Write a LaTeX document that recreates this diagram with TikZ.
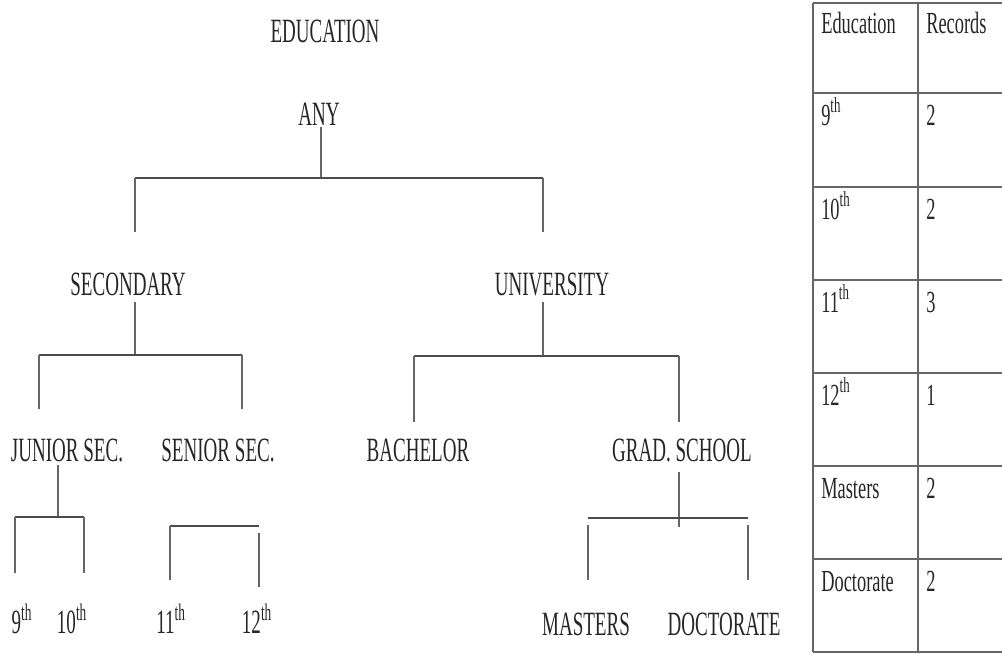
\documentclass[tikz,border=0pt]{standalone}
\usepackage{fontspec}
\setmainfont{Liberation Serif}[FakeStretch=0.56]
\newfontfamily\tabfont{Liberation Serif}[FakeStretch=0.6]
\begin{document}
\begin{tikzpicture}[x=0.75pt,y=-0.75pt,
  lbl/.style={anchor=base,inner sep=0pt,text=black!85,font=\fontsize{25.5}{28}\selectfont},
  cell/.style={anchor=base west,inner sep=0pt,text=black!85,font=\tabfont\fontsize{23}{26}\selectfont},
  vline/.style={draw=black!60,line width=1.1pt},
  hline/.style={draw=black!70,line width=1.8pt},
  grid/.style={draw=black!60,line width=1.8pt}]
\useasboundingbox (0,0) rectangle (1002,653);
% tree labels
\node[lbl] (edu) at (325,42) {EDUCATION};
\node[lbl] (any) at (319,125) {ANY};
\node[lbl] (sec) at (128,295) {SECONDARY};
\node[lbl] (uni) at (552,295) {UNIVERSITY};
\node[lbl] (jun) at (67,461) {JUNIOR SEC.};
\node[lbl] (sen) at (218,461) {SENIOR SEC.};
\node[lbl] (bac) at (418,461) {BACHELOR};
\node[lbl] (grd) at (682,461) {GRAD. SCHOOL};
\node[lbl] (g9) at (22,633) {9\textsuperscript{th}};
\node[lbl] (g10) at (72,633) {10\textsuperscript{th}};
\node[lbl] (g11) at (171,633) {11\textsuperscript{th}};
\node[lbl] (g12) at (257,633) {12\textsuperscript{th}};
\node[lbl] (mas) at (586,635) {MASTERS};
\node[lbl] (doc) at (724,635) {DOCTORATE};
% junction coordinates
\coordinate (a0) at (321,127);
\coordinate (a1) at (321,178);
\coordinate (aL) at (135,178);
\coordinate (aR) at (543,178);
\coordinate (aLb) at (135,232);
\coordinate (aRb) at (543,232);
\coordinate (s0) at (135,302);
\coordinate (s1) at (135,355);
\coordinate (sL) at (39,355);
\coordinate (sR) at (242,355);
\coordinate (sLb) at (39,409);
\coordinate (sRb) at (242,409);
\coordinate (u0) at (543,302);
\coordinate (u1) at (543,356);
\coordinate (uL) at (414,356);
\coordinate (uR) at (679,356);
\coordinate (uLb) at (414,422);
\coordinate (uRb) at (679,422);
\coordinate (j0) at (58,465);
\coordinate (j1) at (58,517);
\coordinate (jL) at (15,517);
\coordinate (jR) at (84,517);
\coordinate (jLb) at (15,573);
\coordinate (jRb) at (84,573);
\coordinate (nL) at (170,526);
\coordinate (nR) at (259,526);
\coordinate (nLb) at (170,580);
\coordinate (nRt) at (259,533);
\coordinate (nRb) at (259,587);
\coordinate (r0) at (679,472);
\coordinate (r1) at (679,527);
\coordinate (rL) at (588,518);
\coordinate (rR) at (748,518);
\coordinate (rLt) at (588,525);
\coordinate (rLb) at (588,580);
\coordinate (rRt) at (748,525);
\coordinate (rRb) at (748,580);
% connectors
\draw[vline] (a0) -- (a1);
\draw[hline] (aL) -- (aR);
\draw[vline] (aL) -- (aLb);
\draw[vline] (aR) -- (aRb);
\draw[vline] (s0) -- (s1);
\draw[hline] (sL) -- (sR);
\draw[vline] (sL) -- (sLb);
\draw[vline] (sR) -- (sRb);
\draw[vline] (u0) -- (u1);
\draw[hline] (uL) -- (uR);
\draw[vline] (uL) -- (uLb);
\draw[vline] (uR) -- (uRb);
\draw[vline] (j0) -- (j1);
\draw[hline] (jL) -- (jR);
\draw[vline] (jL) -- (jLb);
\draw[vline] (jR) -- (jRb);
\draw[hline] (nL) -- (nR);
\draw[vline] (nL) -- (nLb);
\draw[vline] (nRt) -- (nRb);
\draw[vline] (r0) -- (r1);
\draw[hline] (rL) -- (rR);
\draw[vline] (rLt) -- (rLb);
\draw[vline] (rRt) -- (rRb);
% table
\foreach \y in {3,93,187,280,373,466,559,652}{
  \draw[grid] (813,\y) -- (1004,\y);
}
\draw[grid] (813,3) -- (813,652);
\draw[grid] (918,3) -- (918,652);
\node[cell] (h1) at (821,33) {Education};
\node[cell] (h2) at (926,33) {Records};
\node[cell] (c1) at (821,125) {9\textsuperscript{th}};
\node[cell] (d1) at (926,125) {2};
\node[cell] (c2) at (821,219) {10\textsuperscript{th}};
\node[cell] (d2) at (926,219) {2};
\node[cell] (c3) at (821,312) {11\textsuperscript{th}};
\node[cell] (d3) at (926,312) {3};
\node[cell] (c4) at (821,405) {12\textsuperscript{th}};
\node[cell] (d4) at (926,405) {1};
\node[cell] (c5) at (821,498) {Masters};
\node[cell] (d5) at (926,498) {2};
\node[cell] (c6) at (821,591) {Doctorate};
\node[cell] (d6) at (926,591) {2};
\end{tikzpicture}
\end{document}
